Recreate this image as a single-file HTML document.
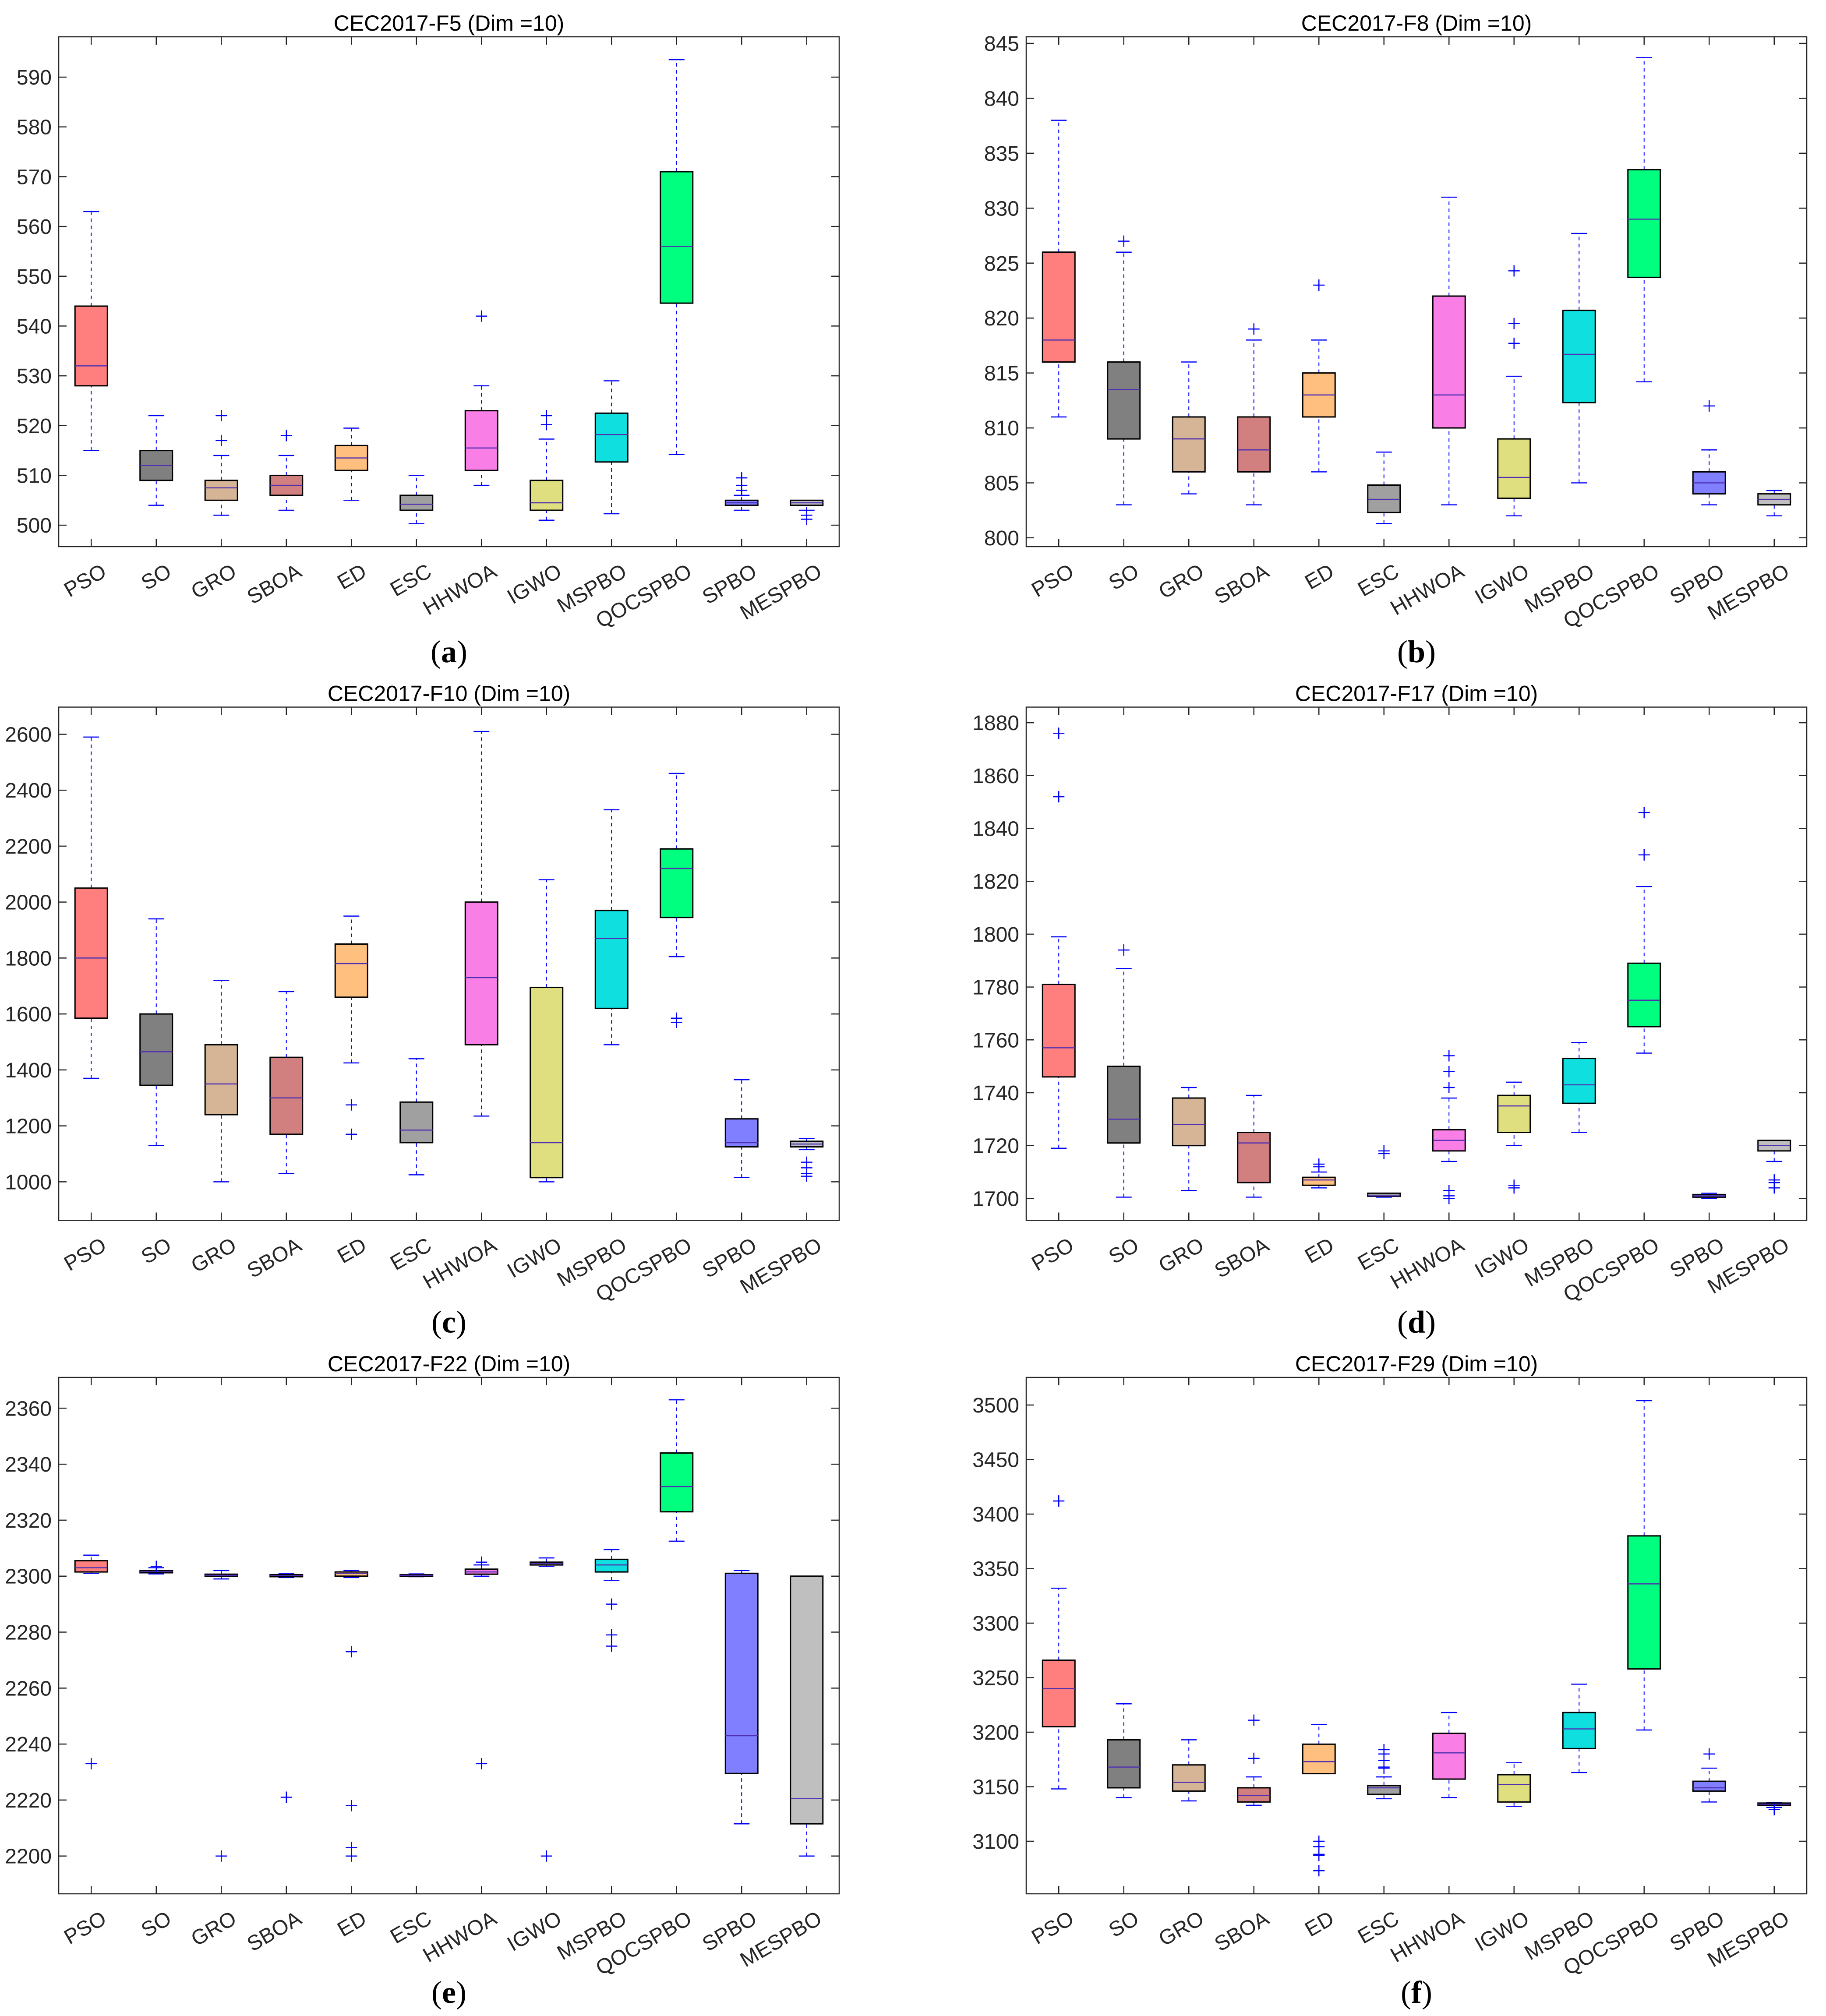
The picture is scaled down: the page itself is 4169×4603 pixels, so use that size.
<!DOCTYPE html>
<html><head><meta charset="utf-8">
<style>
html,body{margin:0;padding:0;background:#fff;}
svg{display:block;}
</style></head>
<body>
<svg id="chart" width="4169" height="4603" viewBox="0 0 4169 4603" xmlns="http://www.w3.org/2000/svg"></svg>
<script>
const categories = ["PSO","SO","GRO","SBOA","ED","ESC","HHWOA","IGWO","MSPBO","QOCSPBO","SPBO","MESPBO"];
const boxColors = ["#FF7F7F","#808080","#D6B496","#D27F7F","#FFBF7F","#A0A0A0","#F97FE6","#DFDF7F","#10DFDF","#00FF7F","#7F7FFF","#BFBFBF"];
const titles = ["CEC2017-F5 (Dim =10)","CEC2017-F8 (Dim =10)","CEC2017-F10 (Dim =10)","CEC2017-F17 (Dim =10)","CEC2017-F22 (Dim =10)","CEC2017-F29 (Dim =10)"];
const captions = ["a","b","c","d","e","f"];
const yLims = [[495.7,598.1],[799.2,845.6],[862,2697],[1691.7,1885.9],[2186.5,2371],[3051.8,3525.3]];
const yTicks = [
 [500,510,520,530,540,550,560,570,580,590],
 [800,805,810,815,820,825,830,835,840,845],
 [1000,1200,1400,1600,1800,2000,2200,2400,2600],
 [1700,1720,1740,1760,1780,1800,1820,1840,1860,1880],
 [2200,2220,2240,2260,2280,2300,2320,2340,2360],
 [3100,3150,3200,3250,3300,3350,3400,3450,3500]
];
// each box: [whiskerLow, q1, median, q3, whiskerHigh]
const statsF5 = [[515,528,532,544,563],[504,509,512,515,522],[502,505,507.5,509,514],[503,506,508,510,514],[505,511,513.5,516,519.5],[500.3,503,504.2,506,510],[508,511,515.5,523,528],[501,503,504.5,509,517.3],[502.3,512.7,518.2,522.5,529],[514.2,544.6,556,571,593.5],[503,504,504.5,505,506],[503,504,504.5,505,505]];
const outF5 = [[],[],[517,522],[518],[],[],[542],[520.2,522],[],[],[507,508,509.5],[502,501.2]];
const statsF8 = [[811,816,818,826,838],[803,809,813.5,816,826],[804,806,809,811,816],[803,806,808,811,818],[806,811,813,815,818],[801.3,802.3,803.5,804.8,807.8],[803,810,813,822,831],[802,803.6,805.5,809,814.7],[805,812.3,816.7,820.7,827.7],[814.2,823.7,829,833.5,843.7],[803,804,805,806,808],[802,803,803.5,804,804.3]];
const outF8 = [[],[827],[],[819],[823],[],[],[817.7,819.5,824.3],[],[],[812],[]];
const statsF10 = [[1370,1585,1800,2050,2590],[1130,1345,1465,1600,1940],[1000,1240,1350,1490,1720],[1030,1170,1300,1445,1680],[1425,1660,1780,1850,1950],[1025,1140,1185,1285,1440],[1235,1490,1730,2000,2610],[1000,1015,1140,1695,2080],[1490,1620,1870,1970,2330],[1805,1945,2120,2190,2460],[1015,1125,1140,1225,1365],[1115,1125,1135,1145,1155]];
const outF10 = [[],[],[],[],[1275,1170],[],[],[],[],[1585,1570],[],[1070,1050,1030,1020]];
const statsF17 = [[1719,1746,1757,1781,1799],[1700.5,1721,1730,1750,1787],[1703,1720,1728,1738,1742],[1700.5,1706,1721,1725,1739],[1704,1705,1707,1708,1710],[1700.5,1700.8,1701,1702,1702],[1714,1718,1722,1726,1738],[1720,1725,1735,1739,1744],[1725,1736,1743,1753,1759],[1755,1765,1775,1789,1818],[1700,1700.5,1701,1701.5,1702],[1714,1718,1720,1722,1722]];
const outF17 = [[1852,1876],[1794],[],[],[1712,1713],[1717,1718],[1742,1748,1754,1703,1701,1700],[1705,1704],[],[1830,1846],[],[1707,1706,1704]];
const statsF22 = [[2301,2301.5,2303,2305.5,2307.5],[2300.8,2301.2,2301.6,2302,2303],[2299,2300,2300.3,2300.7,2302],[2299.5,2299.8,2300.2,2300.5,2301],[2299.5,2300,2301,2301.5,2302],[2299.8,2300,2300.3,2300.5,2300.8],[2300,2300.7,2301.5,2302.5,2304],[2303.5,2304,2304.5,2305,2306.5],[2298.5,2301.5,2304,2306,2309.5],[2312.5,2323,2332,2344,2363],[2211.5,2229.5,2243,2301,2302],[2200,2211.5,2220.5,2300,2300]];
const outF22 = [[2233],[2303.5],[2200],[2221],[2273,2218,2203,2200],[],[2305,2233],[2200],[2290,2279,2275],[],[],[]];
const statsF29 = [[3148,3205,3240,3266,3332],[3140,3149,3168,3193,3226],[3137,3146,3154,3170,3193],[3133,3136,3142,3149,3159],[3162,3162,3173,3189,3207],[3139,3143,3149,3151,3159],[3140,3157,3181,3199,3218],[3132,3136,3152,3161,3172],[3163,3185,3203,3218,3244],[3202,3258,3336,3380,3504],[3136,3146,3149,3155,3167],[3131,3133,3134,3135,3135.5]];
const outF29 = [[3412],[],[],[3176,3211],[3100,3095,3088,3087,3073],[3167,3168,3174,3180,3184],[],[],[],[],[3180],[3129]];

const allStats = [statsF5,statsF8,statsF10,statsF17,statsF22,statsF29];
const allOut = [outF5,outF8,outF10,outF17,outF22,outF29];

const NS = "http://www.w3.org/2000/svg";
const svg = document.getElementById("chart");
function mk(tag, attrs, parent){
  const e = document.createElementNS(NS, tag);
  for (const k in attrs) e.setAttribute(k, attrs[k]);
  parent.appendChild(e);
  return e;
}
const FONT = "Liberation Sans, sans-serif";
const colLeft = [134, 2343];
const plotW = 1782;
const rowTop = [84, 1614.5, 3145];
const rowH = [1164, 1172, 1179];

for (let p = 0; p < 6; p++) {
  const r = Math.floor(p/2), c = p%2;
  const L = colLeft[c], T = rowTop[r], H = rowH[r], B = T + H, R = L + plotW;
  const [y0, y1] = yLims[p];
  const yS = v => B - (v - y0) / (y1 - y0) * H;
  const step = plotW / categories.length;
  const xS = i => L + step * (i + 0.5);

  const g = mk("g", {}, svg);
  
  

  const t = mk("text", {x: L + plotW/2, y: T - 14, "text-anchor":"middle", "font-family":FONT, "font-size":"50"}, g);
  
  
  t.textContent = titles[p];

  const frame = mk("rect", {x:L, y:T, width:plotW, height:H, fill:"none", stroke:"#262626", "stroke-width":"2.5"}, g);
  
  

  const yAx = mk("g", {}, g);
  
  
  yTicks[p].forEach(v => {
    const y = yS(v);
    mk("line", {x1:L, x2:L+18, y1:y, y2:y, stroke:"#262626", "stroke-width":"2.5"}, yAx);
    mk("line", {x1:R-18, x2:R, y1:y, y2:y, stroke:"#262626", "stroke-width":"2.5"}, yAx);
    const tl = mk("text", {x:L-16, y:y+17, "text-anchor":"end", "font-family":FONT, "font-size":"48", fill:"#262626"}, yAx);
    
    
    tl.textContent = v;
  });

  const xAx = mk("g", {}, g);
  
  
  categories.forEach((name, i) => {
    const x = xS(i);
    mk("line", {x1:x, x2:x, y1:T, y2:T+18, stroke:"#262626", "stroke-width":"2.5"}, xAx);
    mk("line", {x1:x, x2:x, y1:B-18, y2:B, stroke:"#262626", "stroke-width":"2.5"}, xAx);
    const lx = x + 38, ly = B + 66;
    const tl = mk("text", {x:lx, y:ly, "text-anchor":"end", transform:`rotate(-30 ${lx} ${ly})`, "font-family":FONT, "font-size":"48", fill:"#262626"}, xAx);
    
    
    tl.textContent = name;
  });

  const stats = allStats[p], outs = allOut[p];
  stats.forEach((s, i) => {
    const x = xS(i), hw = 37, cw = 18;
    const bg = mk("g", {}, g);
    
    
    const [wl, q1, md, q3, wh] = s;
    mk("line", {x1:x, x2:x, y1:yS(q3), y2:yS(wh), stroke:"#0000ff", "stroke-width":"2", "stroke-dasharray":"8 8"}, bg);
    mk("line", {x1:x, x2:x, y1:yS(wl), y2:yS(q1), stroke:"#0000ff", "stroke-width":"2", "stroke-dasharray":"8 8"}, bg);
    mk("line", {x1:x-cw, x2:x+cw, y1:yS(wh), y2:yS(wh), stroke:"#0000ff", "stroke-width":"2.5"}, bg);
    mk("line", {x1:x-cw, x2:x+cw, y1:yS(wl), y2:yS(wl), stroke:"#0000ff", "stroke-width":"2.5"}, bg);
    const bh = Math.max(yS(q1) - yS(q3), 2);
    mk("rect", {x:x-hw, y:yS(q3), width:2*hw, height:bh, fill:boxColors[i], stroke:"#000", "stroke-width":"3"}, bg);
    mk("line", {x1:x-hw, x2:x+hw, y1:yS(md), y2:yS(md), stroke:"#5030b0", "stroke-width":"2.5"}, bg);
    outs[i].forEach(o => {
      const y = yS(o);
      mk("path", {d:`M${x-13} ${y}H${x+13}M${x} ${y-13}V${y+13}`, stroke:"#0000ff", "stroke-width":"2.5", fill:"none"}, bg);
    });
  });

  const cap = mk("text", {x:L + plotW/2, y:1512 + 1530.5*r, "text-anchor":"middle", "font-family":"Liberation Serif, serif", "font-size":"72"}, g);
  
  
  cap.innerHTML = '(<tspan font-weight="bold">' + captions[p] + '</tspan>)';
}
</script>
</body></html>
